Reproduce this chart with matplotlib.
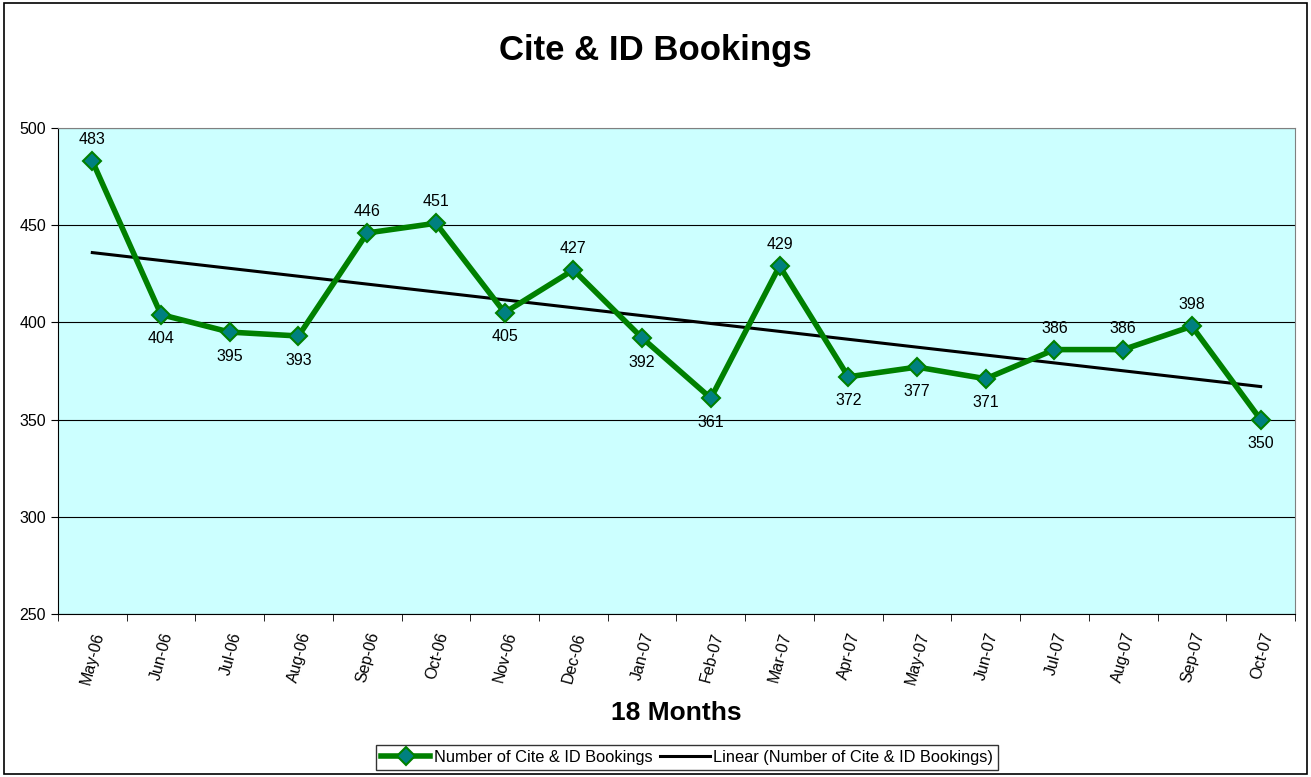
import matplotlib
matplotlib.use('Agg')
import matplotlib.pyplot as plt
from matplotlib.patches import Rectangle
import numpy as np

plt.rcParams['font.family'] = ['Liberation Sans', 'DejaVu Sans']

# data
months = ['May-06', 'Jun-06', 'Jul-06', 'Aug-06', 'Sep-06', 'Oct-06', 'Nov-06', 'Dec-06',
          'Jan-07', 'Feb-07', 'Mar-07', 'Apr-07', 'May-07', 'Jun-07', 'Jul-07', 'Aug-07',
          'Sep-07', 'Oct-07']
bookings = [483, 404, 395, 393, 446, 451, 405, 427, 392, 361, 429, 372, 377, 371, 386, 386, 398, 350]
label_above = [True, False, False, False, True, True, False, True, False, False, True,
               False, False, False, True, True, True, False]

x = np.arange(len(months))
coef = np.polyfit(x, bookings, 1)
trend = np.polyval(coef, x)

fig = plt.figure(figsize=(13.11, 7.77), dpi=100)
fig.patches.append(Rectangle((0.003, 0.004), 0.994, 0.992, transform=fig.transFigure,
                             fill=False, edgecolor='black', linewidth=1.2))
ax = fig.add_axes([0.0442, 0.2098, 0.9436, 0.6255])
ax.set_facecolor('#CCFFFF')

ax.set_ylim(250, 500)
ax.set_yticks(np.arange(250, 501, 50))
ax.set_xlim(-0.5, len(months) - 0.5)
ax.yaxis.grid(True, color='black', linewidth=0.8)
ax.set_axisbelow(True)

line, = ax.plot(x, bookings, color='#008000', linewidth=4, marker='D', markersize=9.5,
                markerfacecolor='#008080', markeredgecolor='#008000', markeredgewidth=1.5,
                zorder=3, label='Number of Cite & ID Bookings')
tl, = ax.plot(x, trend, color='black', linewidth=2.2, zorder=2,
              label='Linear (Number of Cite & ID Bookings)')

for xi, v, up in zip(x, bookings, label_above):
    ax.annotate(str(v), (xi, v), xytext=(0, 10 if up else -12), textcoords='offset points',
                ha='center', va='bottom' if up else 'top', fontsize=11.5, zorder=4)

ax.set_xticks(x)
ax.set_xticklabels(months, rotation=75, ha='right', rotation_mode='anchor', fontsize=11.5)
ax.set_xticks(np.arange(-0.5, len(months)), minor=True)
ax.tick_params(axis='x', which='major', length=0, pad=12)
ax.tick_params(axis='x', which='minor', length=5, direction='out')
ax.tick_params(axis='y', labelsize=11.5, length=5, direction='out')
for s in ['top', 'right']:
    ax.spines[s].set_color('#808080')
ax.spines['left'].set_color('black')
ax.spines['bottom'].set_color('black')

fig.text(0.5, 0.935, 'Cite & ID Bookings', ha='center', va='center', fontsize=25, fontweight='bold')
fig.text(0.516, 0.082, '18 Months', ha='center', va='center', fontsize=19, fontweight='bold')

leg = fig.legend(handles=[line, tl], loc='center', bbox_to_anchor=(0.524, 0.025), ncol=2,
                 fontsize=11.8, frameon=True, fancybox=False, edgecolor='black',
                 handlelength=3, handletextpad=0.2, columnspacing=0.5, borderpad=0.3)
leg.get_frame().set_linewidth(1)

fig.savefig('out.png', dpi=100)
